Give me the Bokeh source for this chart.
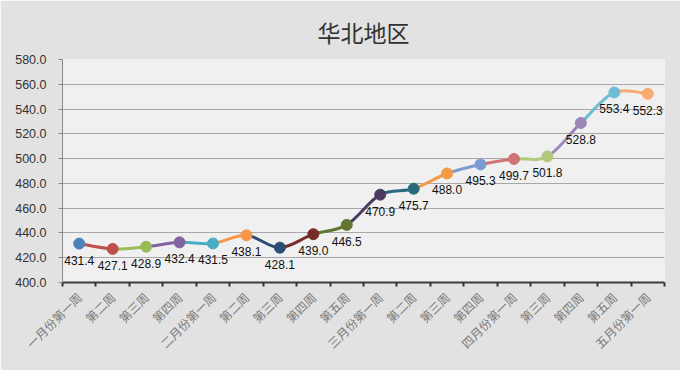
import numpy as np
from bokeh.plotting import figure
from bokeh.models import FixedTicker, Range1d, PrintfTickFormatter
from bokeh.embed import file_html
from bokeh.resources import INLINE
from bokeh.core.properties import value

title_text = "华北地区"
weeks = ["一月份第一周", "第二周", "第三周", "第四周",
         "二月份第一周", "第二周", "第三周", "第四周", "第五周",
         "三月份第一周", "第二周", "第三周", "第四周",
         "四月份第一周", "第三周", "第四周", "第五周",
         "五月份第一周"]
prices = [431.4, 427.1, 428.9, 432.4, 431.5, 438.1, 428.1, 439.0, 446.5,
          470.9, 475.7, 488.0, 495.3, 499.7, 501.8, 528.8, 553.4, 552.3]
point_colors = ["#4F81BD", "#C0504D", "#9BBB59", "#8064A2", "#4BACC6", "#F79646",
                "#2C4D75", "#772C2A", "#5F7530", "#4D3B62", "#276A7C", "#F39A45",
                "#7A9BD0", "#CF7472", "#B0C97C", "#9B86B8", "#6EBED3", "#F9AB70"]
y_ticks = [400, 420, 440, 460, 480, 500, 520, 540, 560, 580]

n = len(prices)
xs = np.arange(n) + 0.5
ys = np.array(prices)

p = figure(width=680, height=370, output_backend="svg", toolbar_location=None,
           x_range=Range1d(0, n), y_range=Range1d(y_ticks[0], y_ticks[-1]),
           title=title_text, min_border_left=62, min_border_top=59,
           min_border_right=16, min_border_bottom=88)

p.background_fill_color = "#F0F0F0"
p.border_fill_color = "#E2E2E2"
p.outline_line_color = None

p.title.align = "center"
p.title.vertical_align = "top"
p.title.text_font = "Noto Sans CJK SC"
p.title.text_font_size = "23px"
p.title.text_font_style = "normal"
p.title.text_color = "#333333"
p.title.standoff = 18

# smoothed segments, each coloured like the point it ends at
for i in range(n - 1):
    i0 = max(i - 1, 0)
    i3 = min(i + 2, n - 1)
    cx0 = xs[i] + (xs[i + 1] - xs[i0]) / 6
    cy0 = ys[i] + (ys[i + 1] - ys[i0]) / 6
    cx1 = xs[i + 1] - (xs[i3] - xs[i]) / 6
    cy1 = ys[i + 1] - (ys[i3] - ys[i]) / 6
    p.bezier(x0=[xs[i]], y0=[ys[i]], x1=[xs[i + 1]], y1=[ys[i + 1]],
             cx0=[cx0], cy0=[cy0], cx1=[cx1], cy1=[cy1],
             line_color=point_colors[i + 1], line_width=3)

p.scatter(xs, ys, size=11, fill_color=point_colors, line_color=point_colors)

p.text(xs, ys, text=[f"{v:.1f}" for v in prices], text_align="center",
       text_baseline="top", y_offset=12, text_font=value("Liberation Sans"),
       text_font_size="12px", text_color="#111111")

# axes
p.xaxis.ticker = FixedTicker(ticks=list(xs), minor_ticks=list(range(n + 1)))
p.xaxis.major_label_overrides = {float(x): w for x, w in zip(xs, weeks)}
p.xaxis.major_label_orientation = np.pi / 4
p.xaxis.major_tick_out = 0
p.xaxis.major_tick_in = 0
p.xaxis.minor_tick_out = 4
p.xaxis.minor_tick_in = 0
p.xaxis.minor_tick_line_color = "#333333"
p.xaxis.minor_tick_line_width = 2
p.xaxis.axis_line_color = "#3A3A3A"
p.xaxis.axis_line_width = 2
p.xaxis.major_label_text_font = "Noto Sans CJK SC"
p.xaxis.major_label_text_font_size = "12px"
p.xaxis.major_label_text_color = "#7A7A7A"
p.xaxis.major_label_standoff = 8

p.yaxis.ticker = FixedTicker(ticks=y_ticks, minor_ticks=[])
p.yaxis.formatter = PrintfTickFormatter(format="%.1f")
p.yaxis.major_tick_out = 4
p.yaxis.major_tick_in = 0
p.yaxis.major_tick_line_color = "#888888"
p.yaxis.axis_line_color = "#888888"
p.yaxis.major_label_text_font = "Liberation Sans"
p.yaxis.major_label_text_font_size = "12.5px"
p.yaxis.major_label_text_color = "#333333"
p.yaxis.major_label_standoff = 12

p.xgrid.visible = False
p.ygrid.grid_line_color = "#A8A8A8"
p.ygrid.grid_line_width = 1

open("out.html", "w").write(file_html(p, INLINE))
